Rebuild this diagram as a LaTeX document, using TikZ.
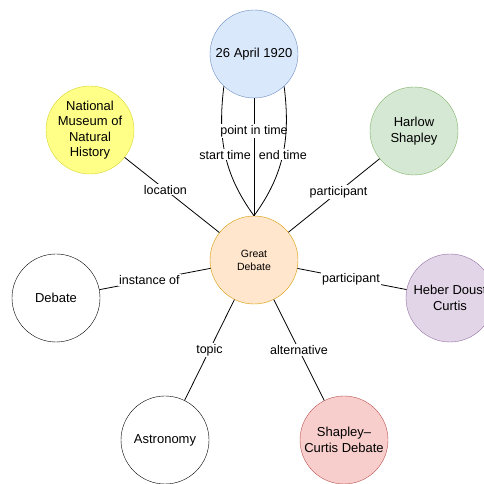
\documentclass[tikz,border=0pt]{standalone}
\usepackage{fontspec}
\setmainfont{Liberation Sans}
\usetikzlibrary{calc}
\definecolor{dateFill}{HTML}{DAE8FC}\definecolor{dateLine}{HTML}{6C8EBF}
\definecolor{musFill}{HTML}{FFFF88}\definecolor{musLine}{HTML}{D6D62E}
\definecolor{hsFill}{HTML}{D5E8D4}\definecolor{hsLine}{HTML}{82B366}
\definecolor{gdFill}{HTML}{FFE6CC}\definecolor{gdLine}{HTML}{D79B00}
\definecolor{hdcFill}{HTML}{E1D5E7}\definecolor{hdcLine}{HTML}{9673A6}
\definecolor{scdFill}{HTML}{F8CECC}\definecolor{scdLine}{HTML}{B85450}
\tikzset{
  ent/.style={circle, draw, minimum size=88pt, inner sep=0pt, align=center,
    font=\fontsize{13}{15.5}\selectfont},
  lbl/.style={fill=white, inner sep=1pt, font=\fontsize{12.5}{15}\selectfont},
  rel/.style={draw=black, line width=0.8pt}
}

\begin{document}
\begin{tikzpicture}[x=1pt, y=1pt]
		%%%%% BOX %%%%%
		\useasboundingbox (0, 0) rectangle (484, 484);
		
		%%%%% NODES %%%%%
		\node[ent, fill=gdFill, draw=gdLine, font=\fontsize{10.5}{13}\selectfont] (gd) at (254, 224) {Great\\Debate};
		\node[ent, fill=dateFill, draw=dateLine] (date) at (254, 430) {26 April 1920};
		\node[ent, fill=musFill, draw=musLine] (mus) at (90, 354) {National\\Museum of\\Natural\\History};
		\node[ent, fill=hsFill, draw=hsLine] (hs) at (414, 353) {Harlow\\Shapley};
		\node[ent, fill=white] (deb) at (56, 186) {Debate};
		\node[ent, fill=hdcFill, draw=hdcLine] (hdc) at (450, 186) {Heber Doust\\Curtis};
		\node[ent, fill=white] (ast) at (165, 44) {Astronomy};
		\node[ent, fill=scdFill, draw=scdLine] (scd) at (344, 44) {Shapley--\\Curtis Debate};
		
		%%%%% TIME %%%%%
		\draw[rel] (date.227) to[out=-97, in=126] node[lbl, pos=0.5] {start time} (gd.north);
		\draw[rel] (date.south) -- node[lbl, pos=0.28] {point in time} (gd.north);
		\draw[rel] (date.313) to[out=-83, in=54] node[lbl, pos=0.5] {end time} (gd.north);
		
		%%%%% OTHER %%%%%
		\draw[rel] (gd) -- node[lbl, pos=0.57] {location} (mus);
		\draw[rel] (gd) -- node[lbl, pos=0.55] {participant} (hs);
		\draw[rel] (gd) -- node[lbl, pos=0.55] {instance of} (deb);
		\draw[rel] (gd) -- node[lbl, pos=0.49] {participant} (hdc);
		\draw[rel] (gd) -- node[lbl, pos=0.5] {topic} (ast);
		\draw[rel] (gd) -- node[lbl, pos=0.5] {alternative} (scd);
		
		%%%%% END %%%%%
	\end{tikzpicture}
\end{document}
